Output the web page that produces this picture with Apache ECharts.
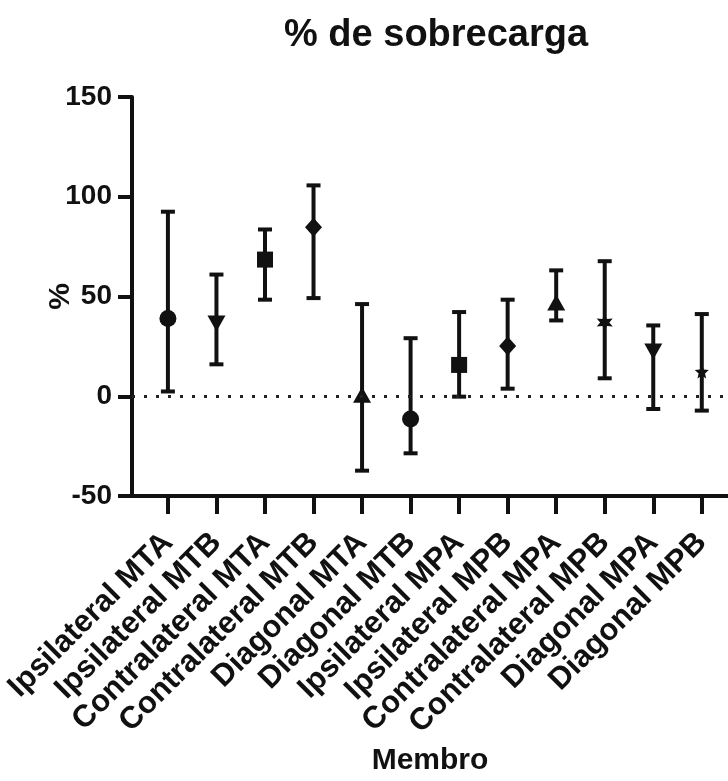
<!DOCTYPE html>
<html>
<head>
<meta charset="utf-8">
<script src="https://cdn.jsdelivr.net/npm/echarts@6/dist/echarts.min.js"></script>
<style>
html,body{margin:0;padding:0;background:#fff;}
#chart{width:728px;height:781px;}
</style>
</head>
<body>
<div id="chart"></div>
<script>
const categories = ['Ipsilateral MTA','Ipsilateral MTB','Contralateral MTA','Contralateral MTB','Diagonal MTA','Diagonal MTB','Ipsilateral MPA','Ipsilateral MPB','Contralateral MPA','Contralateral MPB','Diagonal MPA','Diagonal MPB'];
const means = [39, 36.5, 68.5, 84.7, 0.7, -11.4, 15.7, 25.2, 47, 37, 22.4, 12.4];
const upper = [92.5, 61, 83.6, 105.7, 46.2, 29.1, 42.2, 48.4, 63.1, 67.7, 35.5, 41.2];
const lower = [2.4, 16, 48.4, 49.2, -37.3, -28.6, -0.2, 3.8, 38, 9, -6.4, -7.2];
const markers = ['circle','triangleDown','square','diamond','triangle','circle','square','diamond','triangle','asterisk','triangleDown','star'];
const yTicks = [-50, 0, 50, 100, 150];

const symbolStyles = {
  circle: {symbol: 'circle', size: 17},
  square: {symbol: 'rect', size: 16},
  diamond: {symbol: 'diamond', size: [17, 19]},
  triangle: {symbol: 'path://M10,0L20,17L0,17Z', size: [18, 16]},
  triangleDown: {symbol: 'path://M0,0L20,0L10,17Z', size: [18, 16]},
  asterisk: {symbol: 'path://M10,0L12.5,5.7L18.7,5L15,10L18.7,15L12.5,14.3L10,20L7.5,14.3L1.3,15L5,10L1.3,5L7.5,5.7Z', size: 16},
  star: {symbol: 'path://M10,0L12.9,6.9L20,7.6L14.6,12.3L16.2,19.3L10,15.6L3.8,19.3L5.4,12.3L0,7.6L7.1,6.9Z', size: 14}
};

const ink = '#111';
const font = 'Liberation Sans, Arial, sans-serif';
const chart = echarts.init(document.getElementById('chart'), null, {renderer: 'canvas'});
const idx = categories.map((c, i) => i);

chart.setOption({
  animation: false,
  backgroundColor: '#fff',
  title: {
    text: '% de sobrecarga',
    left: 279,
    top: 12,
    textStyle: {fontFamily: font, fontWeight: 'bold', fontSize: 38, color: ink}
  },
  grid: {left: 132, right: 0, top: 97, bottom: 284, containLabel: false},
  xAxis: {
    type: 'value',
    min: -0.74,
    max: 11.54,
    name: 'Membro',
    nameLocation: 'middle',
    nameGap: 250,
    nameMoveOverlap: false,
    nameTextStyle: {fontFamily: font, fontWeight: 'bold', fontSize: 30, color: ink},
    axisLine: {onZero: false, lineStyle: {color: ink, width: 4}},
    axisTick: {show: true, customValues: idx, length: 18, lineStyle: {color: ink, width: 4}},
    axisLabel: {
      customValues: idx,
      rotate: 45,
      margin: 42,
      formatter: v => categories[Math.round(v)] || '',
      fontFamily: font, fontWeight: 'bold', fontSize: 31, color: ink
    },
    splitLine: {show: false}
  },
  yAxis: {
    type: 'value',
    min: yTicks[0],
    max: yTicks[yTicks.length - 1],
    interval: 50,
    name: '%',
    nameLocation: 'middle',
    nameGap: 56,
    nameMoveOverlap: false,
    nameRotate: 90,
    nameTextStyle: {fontFamily: font, fontWeight: 'bold', fontSize: 30, color: ink},
    axisLine: {show: true, onZero: false, lineStyle: {color: ink, width: 4}},
    axisTick: {show: true, length: 14, lineStyle: {color: ink, width: 4}},
    axisLabel: {margin: 20, fontFamily: font, fontWeight: 'bold', fontSize: 28, color: ink},
    splitLine: {show: false}
  },
  series: [
    {
      type: 'custom',
      data: idx.map(i => [i, lower[i], upper[i]]),
      encode: {x: 0, y: [1, 2]},
      renderItem: function (params, api) {
        const x = api.value(0);
        const top = api.coord([x, api.value(2)]);
        const bot = api.coord([x, api.value(1)]);
        const hw = 7;
        const st = {stroke: ink, lineWidth: 4};
        return {
          type: 'group',
          children: [
            {type: 'line', shape: {x1: top[0], y1: top[1], x2: bot[0], y2: bot[1]}, style: st},
            {type: 'line', shape: {x1: top[0] - hw, y1: top[1], x2: top[0] + hw, y2: top[1]}, style: st},
            {type: 'line', shape: {x1: bot[0] - hw, y1: bot[1], x2: bot[0] + hw, y2: bot[1]}, style: st}
          ]
        };
      },
      markLine: {
        silent: true,
        symbol: ['none', 'none'],
        label: {show: false},
        lineStyle: {color: '#222', width: 3, type: [3, 9]},
        data: [{yAxis: 0}]
      },
      z: 2
    },
    {
      type: 'scatter',
      data: idx.map(i => ({
        value: [i, means[i]],
        symbol: symbolStyles[markers[i]].symbol,
        symbolSize: symbolStyles[markers[i]].size
      })),
      itemStyle: {color: ink, opacity: 1},
      z: 3
    }
  ]
});
</script>
</body>
</html>
